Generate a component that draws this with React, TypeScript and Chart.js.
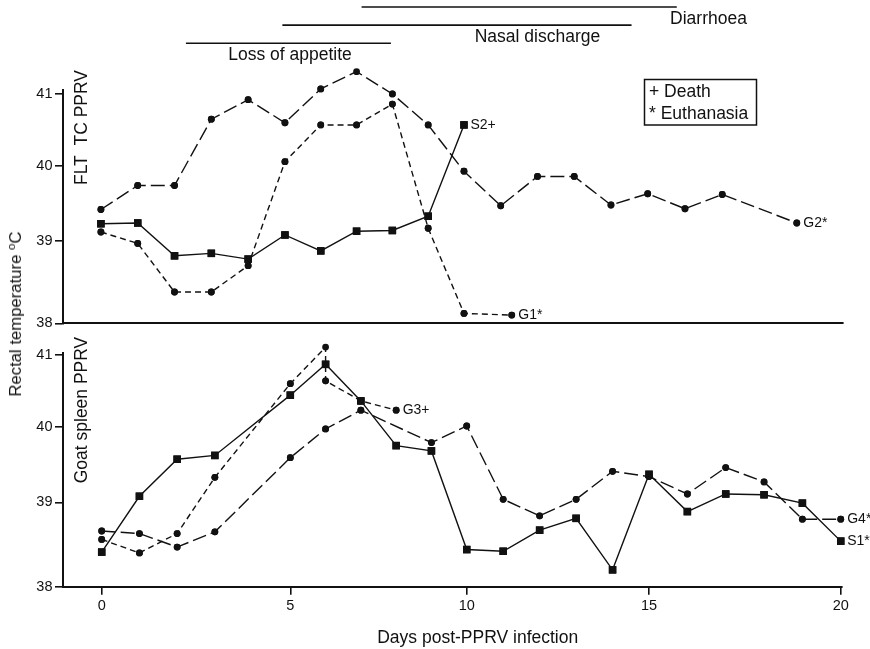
import React, { useEffect, useRef } from 'react';
import { Chart, registerables, LinearScale } from 'chart.js';

Chart.register(...registerables);

// ---------------- data ----------------
// Upper panel: FLT TC PPRV
const G1_DAYS = [0, 1, 2, 3, 4, 5, 6, 7, 8, 9, 10, 11.3];
const G1_TEMP = [39.12, 38.97, 38.38, 38.38, 38.7, 40.06, 40.57, 40.57, 40.86, 39.17, 38.12, 38.1];
const G2_DAYS = [0, 1, 2, 3, 4, 5, 6, 7, 8, 9, 10, 11, 12, 13, 14, 15, 16, 17, 19];
const G2_TEMP = [39.42, 39.74, 39.74, 40.65, 40.92, 40.6, 41.07, 41.31, 41.0, 40.57, 39.93, 39.47, 39.86, 39.86, 39.48, 39.63, 39.43, 39.62, 39.24];
const S2_DAYS = [0, 1, 2, 3, 4, 5, 6, 7, 8, 9, 10];
const S2_TEMP = [39.23, 39.24, 38.82, 38.85, 38.78, 39.08, 38.88, 39.13, 39.14, 39.33, 40.57];

// Lower panel: Goat spleen PPRV
const S1_DAYS = [0, 1, 2, 3, 5, 6, 7, 8, 9, 10, 11, 12, 13, 14, 15, 16, 17, 18, 19, 20];
const S1_TEMP = [38.41, 39.08, 39.57, 39.62, 40.44, 40.87, 40.36, 39.75, 39.68, 38.44, 38.42, 38.67, 38.81, 38.2, 39.37, 38.89, 39.11, 39.1, 38.99, 38.54];
const G3_DAYS = [0, 1, 2, 3, 5, 6, 6, 7, 8];
const G3_TEMP = [38.56, 38.4, 38.63, 39.33, 40.6, 41.11, 40.64, 40.36, 40.23];
const G4_DAYS = [0, 1, 2, 3, 5, 6, 7, 9, 10, 11, 12, 13, 14, 15, 16, 17, 18, 19, 20];
const G4_TEMP = [38.66, 38.63, 38.47, 38.65, 39.59, 39.97, 40.23, 39.79, 40.01, 39.04, 38.84, 39.04, 39.41, 39.34, 39.11, 39.46, 39.27, 38.8, 38.8];

// Clinical signs (days)
const SYMPTOMS = ['Diarrhoea', 'Nasal discharge', 'Loss of appetite'];
const SYMPTOM_START = [7.14, 4.93, 2.31];
const SYMPTOM_END = [15.78, 14.56, 7.96];
const SYMPTOM_LABEL_DAY = [15.6, 12.0, 5.14];
const SYMPTOM_ALIGN: CanvasTextAlign[] = ['left', 'center', 'center'];

const LEGEND_LINES = ['+ Death', '* Euthanasia'];

const X_TICKS = [0, 5, 10, 15, 20];
const Y_TICKS = [38, 39, 40, 41];

// axis calibration of the (slightly non-uniform) printed axes
const TOP_X_POS = [101, 285, 464, 647.7, 834];
const TOP_Y_POS = [323.3, 241, 166, 94];
const BOT_X_POS = [101.7, 290.3, 466.7, 649, 840.7];
const BOT_Y_POS = [586.7, 502.3, 426.7, 355];

const INK = '#111';
const FONT = '"Liberation Sans", Arial, Helvetica, sans-serif';

// ---------------- piecewise-calibrated linear scale ----------------
class WarpScale extends LinearScale {
  static id = 'warp';
  static defaults = {};
  warpU(v: number): number {
    const s: any = this;
    const k: number[] = s.$knots;
    const p: number[] = s.$pos;
    if (!k || !p) return v;
    const n = k.length;
    let i = 0;
    if (v >= k[n - 1]) i = n - 2;
    else while (i < n - 2 && v > k[i + 1]) i++;
    return p[i] + ((v - k[i]) * (p[i + 1] - p[i])) / (k[i + 1] - k[i]);
  }
  getPixelForValue(value: number) {
    if (value === null || value === undefined || Number.isNaN(value)) return NaN;
    const u0 = this.warpU(this.min);
    const u1 = this.warpU(this.max);
    return this.getPixelForDecimal((this.warpU(value) - u0) / (u1 - u0));
  }
  getValueForPixel(pixel: number) {
    const s: any = this;
    const k: number[] = s.$knots;
    const p: number[] = s.$pos;
    const u0 = this.warpU(this.min);
    const u1 = this.warpU(this.max);
    const u = u0 + this.getDecimalForPixel(pixel) * (u1 - u0);
    if (!k || !p) return u;
    const n = k.length;
    const dir = Math.sign(p[n - 1] - p[0]);
    let i = 0;
    if ((u - p[n - 1]) * dir >= 0) i = n - 2;
    else while (i < n - 2 && (u - p[i + 1]) * dir > 0) i++;
    return k[i] + ((u - p[i]) * (k[i + 1] - k[i])) / (p[i + 1] - p[i]);
  }
}
Chart.register(WarpScale as any);

Chart.defaults.font.family = FONT;
Chart.defaults.color = INK;

// ---------------- helpers ----------------
type Kind = 'square' | 'short' | 'long';
const series = (label: string, xs: number[], ys: number[], kind: Kind) => ({
  label,
  data: xs.map((x, i) => ({ x, y: ys[i] })),
  borderColor: INK,
  borderWidth: 1.4,
  borderDash: kind === 'short' ? [6, 4] : kind === 'long' ? [14, 5] : [],
  pointStyle: kind === 'square' ? 'rect' : 'circle',
  pointRadius: kind === 'square' ? 5.3 : 3.4,
  pointHoverRadius: kind === 'square' ? 5.3 : 3.4,
  pointBackgroundColor: INK,
  pointBorderWidth: 0,
  tension: 0,
  fill: false,
  clip: false as any,
});

const BIG_AREA = { left: -1e5, top: -1e5, right: 1e5, bottom: 1e5 };

// markers beyond the axis top (Chart.js skips them) + end-of-series labels
const overlay = {
  id: 'overlay',
  afterDatasetsDraw(chart: any) {
    const ctx = chart.ctx;
    chart.data.datasets.forEach((_ds: any, i: number) => {
      chart.getDatasetMeta(i).data.forEach((el: any) => el.draw(ctx, BIG_AREA));
    });
    ctx.save();
    ctx.fillStyle = INK;
    ctx.font = `14px ${FONT}`;
    ctx.textAlign = 'left';
    ctx.textBaseline = 'middle';
    chart.data.datasets.forEach((ds: any, i: number) => {
      const pts = chart.getDatasetMeta(i).data;
      const p = pts[pts.length - 1];
      if (p) ctx.fillText(ds.label, p.x + 6.5, p.y);
    });
    ctx.restore();
  },
};

const topDecor = {
  id: 'topDecor',
  afterDraw(chart: any) {
    const ctx = chart.ctx;
    const xs = chart.scales.x;
    ctx.save();
    ctx.strokeStyle = INK;
    ctx.fillStyle = INK;
    ctx.font = `17.5px ${FONT}`;
    ctx.textBaseline = 'middle';
    SYMPTOMS.forEach((name, i) => {
      const y = 7 + i * 18.15;
      ctx.lineWidth = 1.6;
      ctx.beginPath();
      ctx.moveTo(xs.getPixelForValue(SYMPTOM_START[i]), y);
      ctx.lineTo(xs.getPixelForValue(SYMPTOM_END[i]), y);
      ctx.stroke();
      ctx.textAlign = SYMPTOM_ALIGN[i];
      ctx.fillText(name, xs.getPixelForValue(SYMPTOM_LABEL_DAY[i]), y + 12.3);
    });
    // panel label
    ctx.save();
    ctx.translate(82.5, 127.5);
    ctx.rotate(-Math.PI / 2);
    ctx.textAlign = 'center';
    ctx.fillText('FLT  TC PPRV', 0, 0);
    ctx.restore();
    // key box
    ctx.lineWidth = 1.5;
    ctx.strokeRect(644.5, 79.5, 112, 45.5);
    ctx.textAlign = 'left';
    LEGEND_LINES.forEach((t, i) => ctx.fillText(t, 649, 92 + i * 22.5));
    ctx.restore();
  },
};

const bottomDecor = {
  id: 'bottomDecor',
  afterDraw(chart: any) {
    const ctx = chart.ctx;
    ctx.save();
    ctx.fillStyle = INK;
    ctx.font = `17.5px ${FONT}`;
    ctx.textBaseline = 'middle';
    ctx.save();
    ctx.translate(82, 75);
    ctx.rotate(-Math.PI / 2);
    ctx.textAlign = 'center';
    ctx.fillText('Goat spleen PPRV', 0, 0);
    ctx.restore();
    ctx.textAlign = 'center';
    ctx.fillText('Days post-PPRV infection', 477.7, 303.5);
    ctx.restore();
  },
};

const yScale = (pos: number[], yMax: number) => ({
  type: 'warp',
  min: 38,
  max: yMax,
  afterDataLimits: (s: any) => {
    s.$knots = Y_TICKS;
    s.$pos = pos;
  },
  afterBuildTicks: (s: any) => {
    s.ticks = Y_TICKS.map((value) => ({ value }));
  },
  afterFit: (s: any) => {
    s.width = 63;
  },
  border: { display: true, color: INK, width: 2 },
  grid: { display: true, drawOnChartArea: false, drawTicks: true, tickLength: 8, color: INK, lineWidth: 1.6 },
  ticks: { font: { size: 14.5 }, color: INK, padding: 2.5, callback: (v: any) => String(v) },
});

const xScale = (pos: number[], xMin: number, xMax: number, height: number, showTicks: boolean) => ({
  type: 'warp',
  min: xMin,
  max: xMax,
  afterDataLimits: (s: any) => {
    s.$knots = X_TICKS;
    s.$pos = pos;
  },
  afterBuildTicks: (s: any) => {
    s.ticks = X_TICKS.map((value) => ({ value }));
  },
  afterFit: (s: any) => {
    s.height = height;
  },
  border: { display: true, color: INK, width: 2 },
  grid: { display: true, drawOnChartArea: false, drawTicks: showTicks, tickLength: 8, color: INK, lineWidth: 1.6 },
  ticks: { display: showTicks, font: { size: 14.5 }, color: INK, padding: 3, callback: (v: any) => String(v) },
});

const baseOptions = (padding: any, scales: any) => ({
  responsive: false,
  animation: false as const,
  devicePixelRatio: 1,
  events: [],
  layout: { padding },
  plugins: { legend: { display: false }, tooltip: { enabled: false } },
  scales,
});

export default function App() {
  const topRef = useRef<HTMLCanvasElement>(null);
  const botRef = useRef<HTMLCanvasElement>(null);

  useEffect(() => {
    const top = new Chart(topRef.current as HTMLCanvasElement, {
      type: 'line',
      data: {
        datasets: [
          series('S2+', S2_DAYS, S2_TEMP, 'square'),
          series('G1*', G1_DAYS, G1_TEMP, 'short'),
          series('G2*', G2_DAYS, G2_TEMP, 'long'),
        ] as any,
      },
      options: baseOptions(
        { top: 90, right: 27, bottom: 0, left: 0 },
        { x: xScale(TOP_X_POS, -1.03, 20.24, 11.7, false), y: yScale(TOP_Y_POS, 41.055) }
      ) as any,
      plugins: [overlay, topDecor],
    });
    const bot = new Chart(botRef.current as HTMLCanvasElement, {
      type: 'line',
      data: {
        datasets: [
          series('S1*', S1_DAYS, S1_TEMP, 'square'),
          series('G3+', G3_DAYS, G3_TEMP, 'short'),
          series('G4*', G4_DAYS, G4_TEMP, 'long'),
        ] as any,
      },
      options: baseOptions(
        { top: 17.5, right: 28.5, bottom: 0, left: 0 },
        { x: xScale(BOT_X_POS, -1.026, 20.02, 62.3, true), y: yScale(BOT_Y_POS, 41.035) }
      ) as any,
      plugins: [overlay, bottomDecor],
    });
    return () => {
      top.destroy();
      bot.destroy();
    };
  }, []);

  return (
    <div style={{ position: 'absolute', left: 0, top: 0, width: 870, height: 649, background: '#fff', overflow: 'hidden' }}>
      <canvas ref={topRef} width={870} height={335} style={{ position: 'absolute', left: 0, top: 0, width: 870, height: 335 }} />
      <canvas ref={botRef} width={870} height={314} style={{ position: 'absolute', left: 0, top: 335, width: 870, height: 314 }} />
      <div
        style={{
          position: 'absolute',
          left: 16,
          top: 313.5,
          transform: 'translate(-50%, -50%) rotate(-90deg)',
          whiteSpace: 'nowrap',
          font: `16.7px ${FONT}`,
          color: INK,
          lineHeight: '20px',
        }}
      >
        Rectal temperature <sup style={{ fontSize: '70%', verticalAlign: '0.55em', lineHeight: 0 }}>o</sup>C
      </div>
    </div>
  );
}
